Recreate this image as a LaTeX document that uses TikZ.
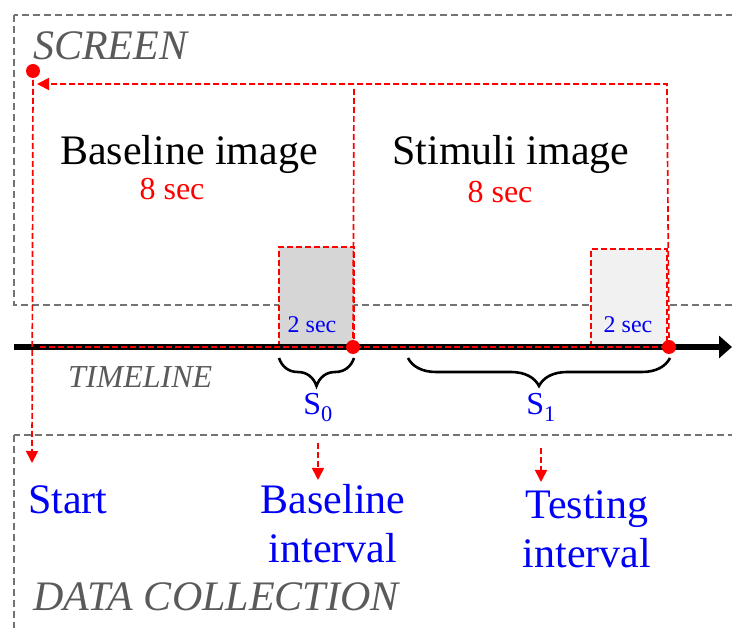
\documentclass[tikz,border=0pt]{standalone}
\usepackage{fontspec}
\setmainfont{Liberation Serif}
\usetikzlibrary{arrows.meta,decorations.pathreplacing}

\definecolor{framegray}{RGB}{115,115,115}
\definecolor{labelgray}{RGB}{90,90,90}
\definecolor{sblue}{RGB}{0,0,245}

\begin{document}
\begin{tikzpicture}[
        x=1pt,y=-1pt,
        frame/.style={draw=framegray,line width=1.8pt,dash pattern=on 7pt off 4pt},
        redline/.style={draw=red,line width=1.7pt,dash pattern=on 6pt off 3pt},
        redarrow/.style={redline,-{Triangle[width=12pt,length=12pt]}},
        reddot/.style={circle,fill=red,inner sep=0pt,minimum size=14pt},
        every node/.style={inner sep=0pt,anchor=base},
        imglabel/.style={font=\fontsize{42}{48}\selectfont},
        seclabel/.style={text=red,font=\fontsize{32}{36}\selectfont},
        small/.style={text=sblue,font=\fontsize{24}{28}\selectfont},
        sector/.style={text=labelgray,font=\itshape\fontsize{42}{48}\selectfont},
        event/.style={text=sblue,align=center,font=\fontsize{42}{49}\selectfont},
        curly/.style={decorate,decoration={brace,mirror,amplitude=28pt},line width=2.6pt}
    ]
        \path[use as bounding box,clip] (0,0) rectangle (732,628);

        % screen and data collection areas
        \draw[frame] (14,15) rectangle (760,305);
        \draw[frame] (14,435) rectangle (760,660);
        \node[sector,anchor=base west] (screen) at (33,60) {SCREEN};
        \node[sector,anchor=base west] (data) at (33,611) {DATA COLLECTION};

        % 2 sec windows
        \filldraw[redline,fill=gray!32] (279,347) rectangle (354,247);
        \filldraw[redline,fill=gray!11] (591,347) rectangle (667,249);
        \node[small] (win0) at (312,333) {2 sec};
        \node[small] (win1) at (628,333) {2 sec};

        % images
        \node[imglabel] (base) at (189,165) {Baseline image};
        \node[seclabel] (base8) at (172,200) {8 sec};
        \node[imglabel] (stim) at (511,165) {Stimuli image};
        \node[seclabel] (stim8) at (500,203) {8 sec};

        % timeline
        \coordinate (t0) at (14,347);
        \coordinate (t1) at (732,347);
        \draw[line width=6pt,-{Triangle[width=22pt,length=13pt]}] (t0) -- (t1);
        \node[text=labelgray,font=\itshape\fontsize{32}{36}\selectfont,anchor=base west] (timeline) at (68,388) {TIMELINE};

        % red loop
        \node[reddot] (startdot) at (33,71) {};
        \node[reddot] (basedot) at (353,347) {};
        \node[reddot] (testdot) at (669,347) {};
        \coordinate (r0) at (40,347);
        \coordinate (up0) at (354,88);
        \coordinate (up1) at (667,84);
        \coordinate (topend) at (37,84);
        \coordinate (startend) at (32,463);
        \draw[redline] (r0) -- (testdot.center);
        \draw[redline] (basedot.center) -- (up0);
        \draw[redarrow] (testdot.center) -- (up1) -- (topend);
        \draw[redarrow] (startdot.center) -- (startend);

        % intervals
        \coordinate (b0l) at (279,358);
        \coordinate (b0r) at (354,358);
        \coordinate (b1l) at (408,358);
        \coordinate (b1r) at (670,358);
        \draw[curly] (b0l) -- (b0r);
        \draw[curly] (b1l) -- (b1r);
        \node[text=sblue,font=\fontsize{32}{36}\selectfont] (s0) at (318,415) {S\textsubscript{0}};
        \node[text=sblue,font=\fontsize{32}{36}\selectfont] (s1) at (541,415) {S\textsubscript{1}};

        % collected data
        \node[event,anchor=base west] (start) at (28,514) {Start};
        \node[event] (baseint) at (333,563) {Baseline\\interval};
        \node[event] (testint) at (587,568) {Testing\\interval};
        \coordinate (a0) at (318,443);
        \coordinate (a0end) at (318,480);
        \coordinate (a1) at (541,448);
        \coordinate (a1end) at (541,482);
        \draw[redarrow] (a0) -- (a0end);
        \draw[redarrow] (a1) -- (a1end);
    \end{tikzpicture}
\end{document}
